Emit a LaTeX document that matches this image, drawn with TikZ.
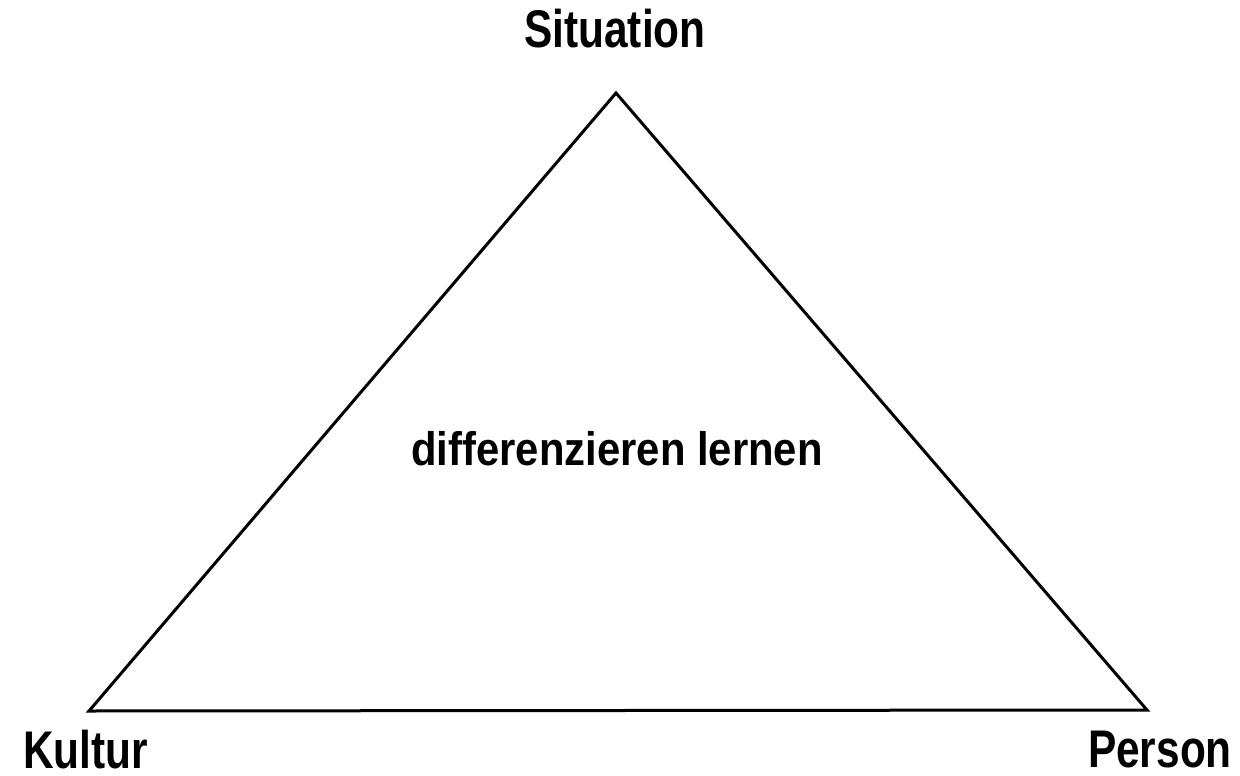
\documentclass[tikz,border=0pt]{standalone}
\usepackage{fontspec}
\setmainfont{Liberation Sans}
\begin{document}
\begin{tikzpicture}[x=1pt,y=-1pt,
  lbl/.style={font=\bfseries\fontsize{53}{60}\selectfont, inner sep=0pt, xscale=0.8},
  mid/.style={font=\bfseries\fontsize{47}{52}\selectfont, inner sep=0pt, xscale=0.89},
  tri/.style={line width=3pt, line join=miter}]
\useasboundingbox[fill=white] (0,0) rectangle (1240,776);
\coordinate (S) at (616,93);
\coordinate (K) at (89,711);
\coordinate (P) at (1147,710);
\draw[tri] (S) -- (K) -- (P) -- cycle;
\node[lbl, anchor=base] (sit) at (615,48) {Situation};
\node[lbl, anchor=base west] (kul) at (23,768) {Kultur};
\node[lbl, anchor=base east] (per) at (1232,767) {Person};
\node[mid, anchor=base] (dl) at (617,465) {differenzieren lernen};
\end{tikzpicture}
\end{document}
